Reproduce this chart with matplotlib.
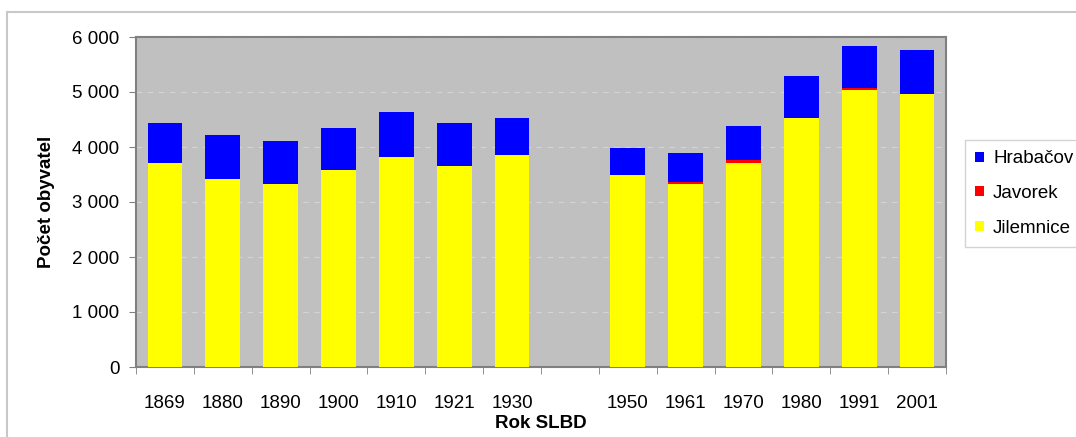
import numpy as np
import matplotlib
matplotlib.use("Agg")
import matplotlib.pyplot as plt
from matplotlib.ticker import FuncFormatter
from matplotlib.lines import Line2D

plt.rcParams['font.family'] = ['Liberation Sans', 'DejaVu Sans']

# census years (1940 slot left empty, no census)
years = ['1869', '1880', '1890', '1900', '1910', '1921', '1930', '',
         '1950', '1961', '1970', '1980', '1991', '2001']
jilemnice = [3715, 3424, 3321, 3582, 3818, 3655, 3855, np.nan,
             3491, 3321, 3715, 4521, 5036, 4964]
javorek = [0, 0, 0, 0, 0, 0, 0, np.nan,
           0, 40, 40, 0, 40, 0]
hrabacov = [727, 794, 794, 770, 824, 787, 666, np.nan,
            497, 524, 627, 776, 754, 805]

jil = np.array(jilemnice, dtype=float)
jav = np.array(javorek, dtype=float)
hra = np.array(hrabacov, dtype=float)
x = np.arange(len(years))
fs = 13.5

fig = plt.figure(figsize=(10.76, 4.37), dpi=100)
# light frame around the chart area
fig.add_artist(Line2D([7/1076, 1], [1-12/437, 1-12/437], color='#c8c8c8', lw=1.5, transform=fig.transFigure))
fig.add_artist(Line2D([7/1076, 7/1076], [0, 1-12/437], color='#c8c8c8', lw=1.5, transform=fig.transFigure))

ax = fig.add_axes([136/1076, 1-367/437, (946-136)/1076, (367-37)/437])
ax.set_facecolor('#c0c0c0')

w = 0.6
ax.bar(x, jil, w, color='#ffff00', label='Jilemnice', zorder=3)
ax.bar(x, jav, w, bottom=jil, color='#ff0000', label='Javorek', zorder=3)
ax.bar(x, hra, w, bottom=jil + jav, color='#0000ff', label='Hrabačov', zorder=3)

ax.set_xlim(-0.5, len(years) - 0.5)
ax.set_ylim(0, 6000)
ax.set_yticks(range(0, 6001, 1000))
ax.yaxis.set_major_formatter(FuncFormatter(lambda v, p: '{:,}'.format(int(v)).replace(',', ' ')))
ax.yaxis.grid(True, color='#d4d4d4', ls=(0, (5, 5)), lw=0.8, zorder=1)

ax.set_xticks(x)
ax.set_xticklabels(years)
ax.set_xticks(np.arange(-0.5, len(years)), minor=True)
ax.tick_params(axis='x', which='major', length=0, pad=20, labelsize=fs)
ax.tick_params(axis='x', which='minor', length=5, color='#808080')
ax.tick_params(axis='y', length=5, color='#808080', pad=7, labelsize=fs)

for s in ax.spines.values():
    s.set_color('#808080')
    s.set_linewidth(1.5)

ax.set_xlabel('Rok SLBD', fontsize=fs, fontweight='bold', labelpad=2)
ax.set_ylabel('Počet obyvatel', fontsize=fs, fontweight='bold', labelpad=12)

h, l = ax.get_legend_handles_labels()
leg = fig.legend(h[::-1], l[::-1], loc='upper left', bbox_to_anchor=(965/1076, 1-140/437),
                 fontsize=fs, frameon=True, fancybox=False, edgecolor='#c8c8c8',
                 handlelength=0.45, handleheight=0.45, handletextpad=0.5,
                 labelspacing=0.95, borderpad=0.55, borderaxespad=0)

fig.savefig('out.png', dpi=100)
